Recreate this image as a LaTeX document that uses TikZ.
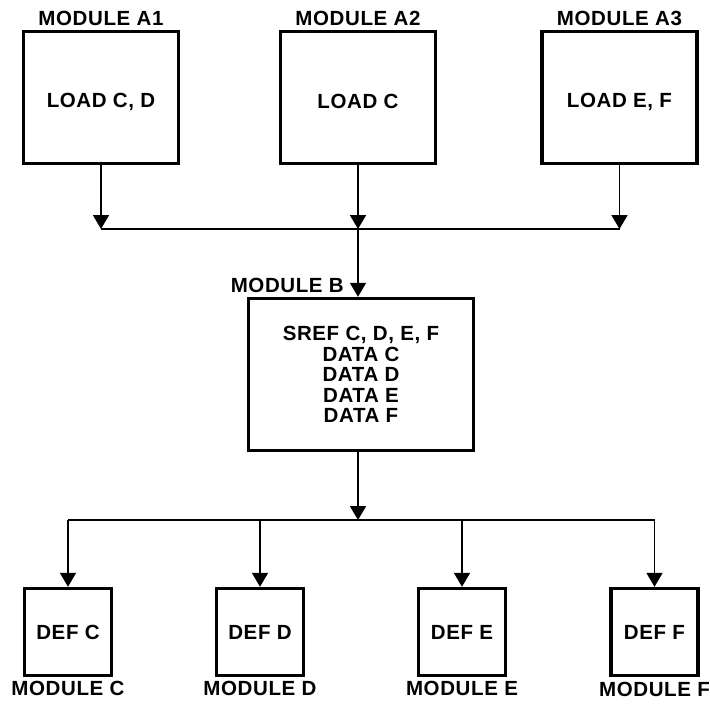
\documentclass[tikz,border=0pt]{standalone}
\usepackage{fontspec}
\setmainfont{Liberation Sans}[LetterSpace=3]
\usetikzlibrary{arrows.meta,positioning}

\begin{document}
\begin{tikzpicture}[
  x=1pt, y=-1pt,
  modbox/.style={draw, rectangle, line width=3.4pt, align=center, inner sep=2pt, font=\bfseries\fontsize{20.5}{20.5}\selectfont},
  loadbox/.style={modbox, minimum width=155pt, minimum height=132pt},
  defbox/.style={modbox, minimum width=87pt, minimum height=87pt},
  lbl/.style={inner sep=1pt, font=\bfseries\fontsize{20.5}{20.5}\selectfont},
  arr/.style={-{Triangle[width=16pt,length=14pt]}, line width=1.8pt},
  wire/.style={line width=1.8pt}
]
\useasboundingbox (0,0) rectangle (710,707);
% top row
\node[loadbox] (a1) at (101,97.5) {\raisebox{-4pt}[\height][\depth]{LOAD C, D}};
\node[loadbox] (a2) at (358,97.5) {\raisebox{-4pt}[\height][\depth]{LOAD C}};
\node[loadbox] (a3) at (619.5,97.5) {\raisebox{-4pt}[\height][\depth]{LOAD E, F}};
\node[lbl, above=3pt of a1] (a1l) {MODULE A1};
\node[lbl, above=3pt of a2] (a2l) {MODULE A2};
\node[lbl, above=3pt of a3] (a3l) {MODULE A3};
\coordinate (tbus) at (358,229);
% module B
\node[modbox, minimum width=225pt, minimum height=152pt] (b) at (361,374.5)
  {SREF C, D, E, F\\DATA C\\DATA D\\DATA E\\DATA F};
\node[lbl, above left=3pt and 16pt of b.north] (bl) {MODULE B};
\coordinate (bbus) at (358,520);
% bottom row
\node[defbox] (c) at (68,632) {DEF C};
\node[defbox] (d) at (260,632) {DEF D};
\node[defbox] (e) at (462,632) {DEF E};
\node[defbox] (f) at (654.5,632) {DEF F};
\node[lbl, below=3pt of c] (cl) {MODULE C};
\node[lbl, below=3pt of d] (dl) {MODULE D};
\node[lbl, below=3pt of e] (el) {MODULE E};
\node[lbl, below=4pt of f] (fl) {MODULE F};
% connectors
\draw[arr] (a1.south) -- (a1.south |- tbus);
\draw[arr] (a2.south) -- (tbus);
\draw[arr] (a3.south) -- (a3.south |- tbus);
\draw[wire] (a1.south |- tbus) -- (a3.south |- tbus);
\draw[arr] (tbus) -- (tbus |- b.north);
\draw[arr] (tbus |- b.south) -- (bbus);
\draw[wire] (c.north |- bbus) -- (f.north |- bbus);
\draw[arr] (c.north |- bbus) -- (c.north);
\draw[arr] (d.north |- bbus) -- (d.north);
\draw[arr] (e.north |- bbus) -- (e.north);
\draw[arr] (f.north |- bbus) -- (f.north);
\end{tikzpicture}
\end{document}
